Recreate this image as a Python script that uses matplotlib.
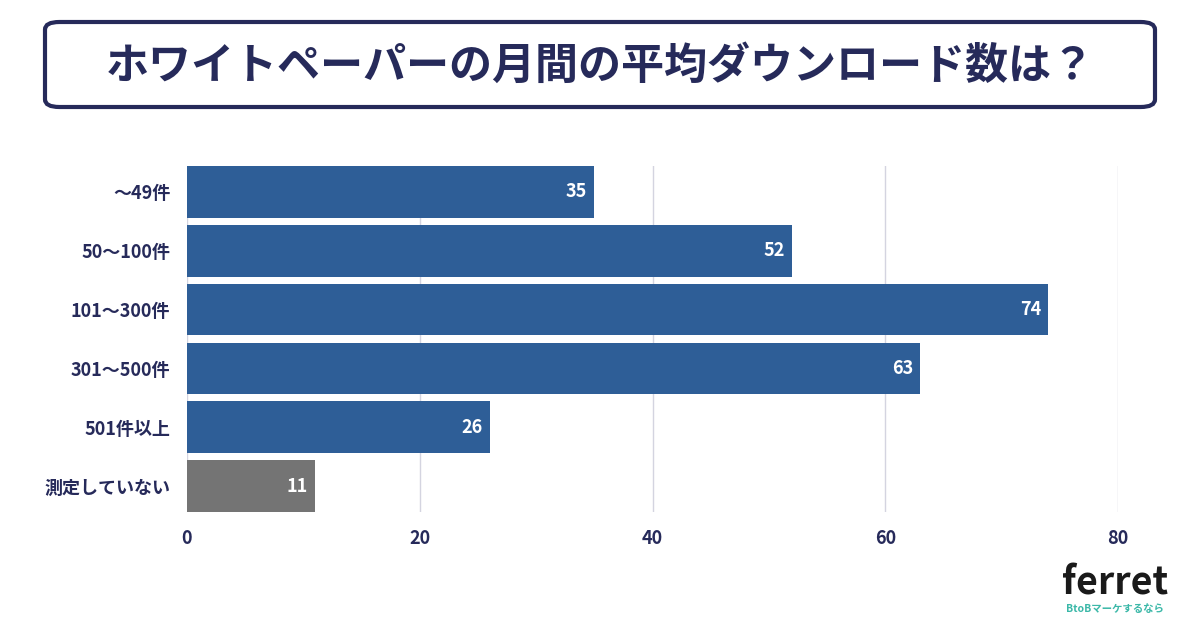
import matplotlib.pyplot as plt
from matplotlib.patches import FancyBboxPatch

categories = ['～49件', '50～100件', '101～300件', '301～500件', '501件以上', '測定していない']
values = [35, 52, 74, 63, 26, 11]
colors = ['#2e5e97'] * 5 + ['#747474']
xticks = [0, 20, 40, 60, 80]

navy = '#262a5a'
plt.rcParams['font.family'] = 'Noto Sans CJK JP'

fig = plt.figure(figsize=(12, 6.3), dpi=100)

# タイトル枠
box = FancyBboxPatch((45 / 1200, 1 - 107 / 630), 1110 / 1200, 85 / 630,
                     boxstyle='round,pad=0,rounding_size=0.012',
                     transform=fig.transFigure, facecolor='white',
                     edgecolor=navy, linewidth=3)
fig.patches.append(box)
fig.text(0.5, 1 - 66 / 630, 'ホワイトペーパーの月間の平均ダウンロード数は？',
         ha='center', va='center', fontsize=31, fontweight='bold', color=navy)

ax = fig.add_axes([187 / 1200, (630 - 512) / 630, 931 / 1200, 346 / 630])
y = list(range(len(categories)))
bars = ax.barh(y, values, height=0.88, color=colors, zorder=2)
for b, v in zip(bars, values):
    ax.text(v - 0.6, b.get_y() + b.get_height() / 2, str(v), ha='right', va='center',
            color='white', fontsize=13, fontweight='bold', zorder=3)

ax.set_xlim(0, 80)
ax.set_ylim(5.44, -0.44)
ax.set_yticks(y)
ax.set_yticklabels(categories, fontsize=13, fontweight='bold', color=navy)
ax.set_xticks(xticks)
ax.set_xticklabels([str(t) for t in xticks], fontsize=13, fontweight='bold', color=navy)
ax.tick_params(length=0, pad=12)
ax.grid(axis='x', color='#d4d4e0', linewidth=1, zorder=0)
for s in ax.spines.values():
    s.set_visible(False)

# ロゴ
fig.text(1115 / 1200, 1 - 583 / 630, 'ferret', ha='center', va='center',
         fontsize=27, fontweight='bold', color='#1a1a1a')
fig.text(1115 / 1200, 1 - 609 / 630, 'BtoBマーケするなら', ha='center', va='center',
         fontsize=7.5, fontweight='bold', color='#3bb8a8')

fig.savefig('out.png', dpi=100)
